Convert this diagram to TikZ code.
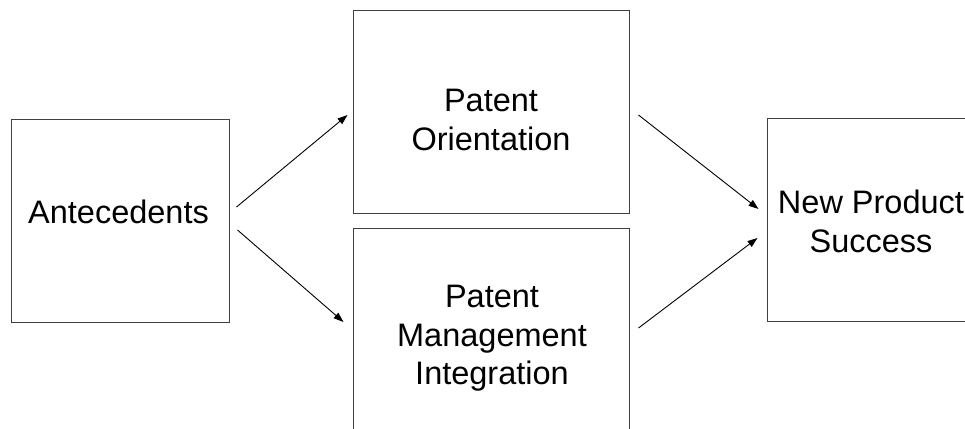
\documentclass[tikz,border=0pt]{standalone}
\usepackage{fontspec}
\setmainfont{Liberation Sans}
\usetikzlibrary{arrows.meta,calc,positioning}

\begin{document}
\begin{tikzpicture}[%
  x=1pt, y=-1pt,
  box/.style={rectangle,draw=black!75,line width=1pt,inner sep=0pt},
  small box/.style={box, minimum width=218pt, minimum height=203pt},
  wide box/.style={box, minimum width=276pt, minimum height=202pt},
  annot/.style={inner sep=0pt, anchor=north, align=center,
    font=\fontsize{32.5}{38.5}\selectfont},
  link/.style={-{Triangle[length=10pt,width=7pt]}, line width=0.9pt}
  ]
  \useasboundingbox (0,0) rectangle (965,428);
  \clip (0,0) rectangle (965,428);
  % Draw the boxes
  \node[small box] (ante) at (120,220.5) {};
  \node[wide box] (orient) at (491,112) {};
  \node[wide box] (integ) at (491,329) {};
  \node[small box] (success) at (876,219.5) {};

  % Write the texts in the boxes
  \node[annot] (ante-t) at (118.5,200) {Antecedents};
  \node[annot] (orient-t) at (491,89) {Patent\\Orientation};
  \node[annot] (integ-t) at (492,285) {Patent\\Management\\Integration};
  \node[annot] (success-t) at (871,190) {New Product\\Success};

  % Connect the antecedents with the two patent boxes
  \draw[link] ($(ante.east)+(7,-13.5)$) -- ($(orient.west)+(-5,3)$);
  \draw[link] ($(ante.east)+(8,9.5)$) -- ($(integ.west)+(-9,-7)$);

  % Connect the two patent boxes with the success box
  \draw[link] ($(orient.east)+(9,3)$) -- ($(success.west)+(-8,-10.5)$);
  \draw[link] ($(integ.east)+(9,-1)$) -- ($(success.west)+(-9,18.5)$);
\end{tikzpicture}
\end{document}
